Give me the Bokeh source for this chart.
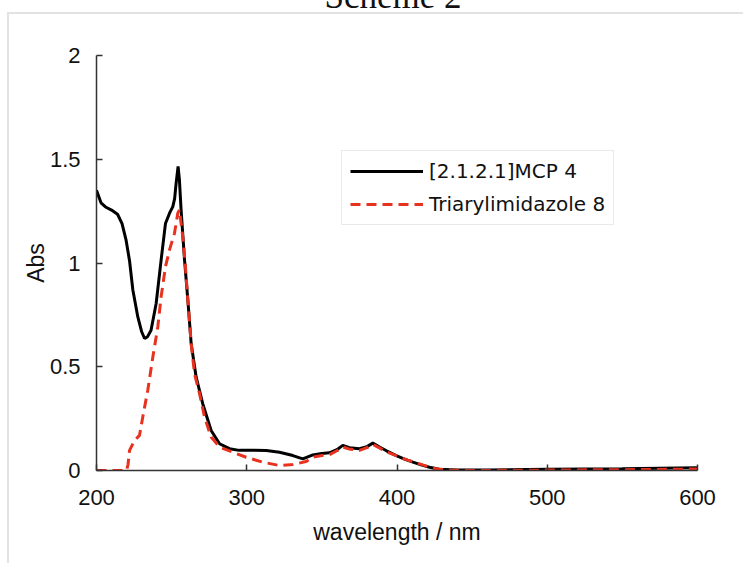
from bokeh.plotting import figure
from bokeh.models import Legend, LegendItem, Label, Range1d, NumeralTickFormatter
from bokeh.embed import file_html
from bokeh.resources import INLINE

# ---- data ----
wl_mcp = [200, 203, 206, 210, 214, 217, 219.7, 222, 224.2, 227.5, 230, 232, 234,
          236.3, 239.7, 243, 245.9, 248.6, 250.8, 252, 253, 254.3, 255.2, 256.3,
          258.6, 260.8, 263, 266.3, 270.7, 276.3, 281.9, 288.5, 295, 305, 313,
          321.8, 330.7, 337.3, 344, 350, 355, 360, 363.9, 368.4, 375, 380, 383.9,
          388.4, 393, 399.5, 405, 410.6, 416, 421.6, 428, 440, 460, 500, 550, 600]
abs_mcp = [1.35, 1.29, 1.27, 1.255, 1.235, 1.19, 1.11, 1.01, 0.87, 0.74, 0.67, 0.636,
           0.645, 0.676, 0.805, 1.014, 1.19, 1.24, 1.272, 1.31, 1.385, 1.465, 1.40,
           1.256, 1.014, 0.821, 0.612, 0.451, 0.322, 0.193, 0.129, 0.105, 0.097,
           0.097, 0.096, 0.088, 0.072, 0.056, 0.075, 0.082, 0.085, 0.1, 0.121, 0.11,
           0.105, 0.115, 0.132, 0.113, 0.095, 0.072, 0.055, 0.04, 0.027, 0.016,
           0.006, 0.003, 0.003, 0.006, 0.009, 0.013]

wl_tri = [200, 220, 221, 222, 225.3, 228.6, 230.8, 234.1, 237.5, 240.8, 243, 245.9,
          248.6, 251.9, 254.1, 255.2, 257.4, 259.2, 260.8, 263, 265.2, 268.6, 271.9,
          276.3, 281.9, 290.7, 299.6, 310.7, 321.8, 330.7, 339.5, 344, 350, 355, 360,
          363.9, 368, 375, 380, 383.9, 388, 393, 399.5, 407, 415, 421, 426, 435, 450,
          500, 550, 600]
abs_tri = [0, 0, 0.03, 0.097, 0.145, 0.169, 0.258, 0.386, 0.547, 0.692, 0.837, 0.982,
           1.063, 1.143, 1.24, 1.256, 1.127, 0.982, 0.821, 0.612, 0.467, 0.37, 0.258,
           0.161, 0.113, 0.088, 0.064, 0.04, 0.024, 0.029, 0.043, 0.064, 0.072, 0.076,
           0.095, 0.113, 0.104, 0.097, 0.11, 0.126, 0.11, 0.09, 0.072, 0.05, 0.032,
           0.018, 0.008, 0.002, 0, 0.002, 0.004, 0.007]

x_ticks = [200, 300, 400, 500, 600]
y_ticks = [0, 0.5, 1, 1.5, 2]
series_labels = ["[2.1.2.1]MCP 4", "Triarylimidazole 8"]
title_text = "Scheme 2"

frame_gray = "#e2e2e2"
p = figure(width=743, height=563,
           x_range=Range1d(200, 600), y_range=Range1d(0, 2),
           output_backend="svg", toolbar_location=None,
           min_border_left=96, min_border_right=46,
           min_border_top=55, min_border_bottom=93,
           styles={
               "background-color": "white",
               "background-image": f"linear-gradient({frame_gray}, {frame_gray}), linear-gradient({frame_gray}, {frame_gray})",
               "background-size": "100% 2px, 2px 100%",
               "background-position": "7px 12px, 7px 12px",
               "background-repeat": "no-repeat",
           })
p.border_fill_color = None
p.background_fill_color = "white"
p.outline_line_color = None
p.xgrid.visible = False
p.ygrid.visible = False

for ax in (p.xaxis[0], p.yaxis[0]):
    ax.axis_line_color = "#333333"
    ax.axis_line_width = 1.5
    ax.major_tick_line_color = "#333333"
    ax.major_tick_line_width = 1.5
    ax.major_tick_in = 6
    ax.major_tick_out = 0
    ax.minor_tick_line_color = None
    ax.major_label_text_font = "Liberation Sans"
    ax.major_label_text_font_size = "22px"
    ax.major_label_text_color = "#111111"
    ax.axis_label_text_font = "Liberation Sans"
    ax.axis_label_text_font_size = "23px"
    ax.axis_label_text_font_style = "normal"
    ax.axis_label_text_color = "#111111"

p.xaxis.ticker = x_ticks
p.yaxis.ticker = y_ticks
p.yaxis.formatter = NumeralTickFormatter(format="0.[0]")
p.xaxis.axis_label = "wavelength / nm"
p.yaxis.axis_label = "Abs"
p.xaxis.major_label_standoff = 19
p.yaxis.major_label_standoff = 16
p.xaxis.axis_label_standoff = 11
p.yaxis.axis_label_standoff = -2

r1 = p.line(wl_mcp, abs_mcp, line_color="black", line_width=3)
r2 = p.line(wl_tri, abs_tri, line_color="#e8321f", line_width=3, line_dash="10 6")

legend = Legend(items=[LegendItem(label=series_labels[0], renderers=[r1]),
                       LegendItem(label=series_labels[1], renderers=[r2])],
                location=(245, 245), margin=0, padding=8, spacing=9,
                glyph_width=73, glyph_height=20, label_height=20,
                label_standoff=6,
                label_text_font="DejaVu Sans", label_text_font_size="20px",
                label_text_color="#111111",
                border_line_color="#d4d4d4", border_line_width=1,
                background_fill_color="white", background_fill_alpha=1)
p.add_layout(legend)

title = Label(x=392.5, y=-4, x_units="canvas", y_units="canvas",
              text=title_text, text_align="center",
              text_baseline="alphabetic", text_font="Liberation Serif",
              text_font_size="35px", text_color="#111111")
p.add_layout(title, "above")

open("out.html", "w").write(file_html(p, INLINE))
